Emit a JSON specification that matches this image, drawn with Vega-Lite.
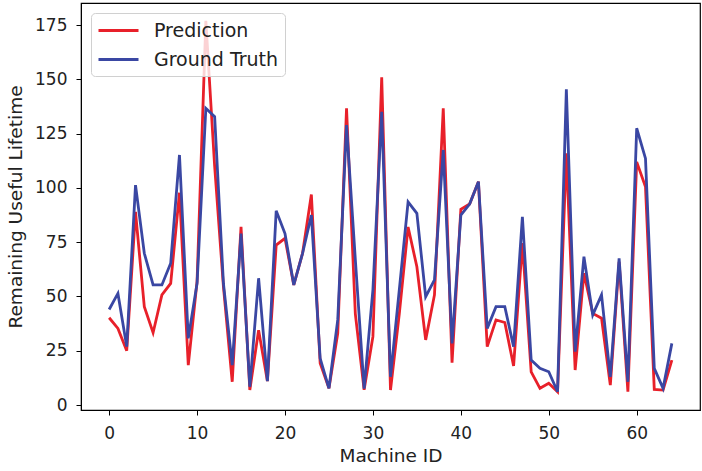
{
  "$schema": "https://vega.github.io/schema/vega-lite/v6.json",
  "width": 619,
  "height": 407,
  "autosize": {"type": "none"},
  "padding": {"left": 81, "top": 3, "right": 2, "bottom": 61},
  "background": "white",
  "config": {
    "font": "DejaVu Sans",
    "view": {"stroke": "black", "strokeWidth": 1.2},
    "axis": {
      "grid": false,
      "domainColor": "black",
      "tickColor": "black",
      "labelColor": "#222",
      "titleColor": "#222",
      "labelFontSize": 17,
      "titleFontSize": 18.5,
      "titleFontWeight": "normal",
      "tickSize": 5
    },
    "legend": {
      "labelFontSize": 19,
      "labelColor": "#222"
    }
  },
  "datasets": {
    "rul": [
      {"id":0,"pred":40.2,"truth":44},
      {"id":1,"pred":35.3,"truth":51.4},
      {"id":2,"pred":25,"truth":26.9},
      {"id":3,"pred":89,"truth":101.3},
      {"id":4,"pred":45.3,"truth":69.9},
      {"id":5,"pred":33.3,"truth":55.3},
      {"id":6,"pred":50.7,"truth":55.3},
      {"id":7,"pred":56,"truth":65.3},
      {"id":8,"pred":97.8,"truth":115.2},
      {"id":9,"pred":18.4,"truth":30.7},
      {"id":10,"pred":57,"truth":56},
      {"id":11,"pred":177,"truth":136.7},
      {"id":12,"pred":110,"truth":132.8},
      {"id":13,"pred":54.5,"truth":56},
      {"id":14,"pred":10.7,"truth":18.4},
      {"id":15,"pred":82.1,"truth":79},
      {"id":16,"pred":6.9,"truth":8.4},
      {"id":17,"pred":34.5,"truth":58.4},
      {"id":18,"pred":11,"truth":11},
      {"id":19,"pred":73.7,"truth":89.5},
      {"id":20,"pred":76.8,"truth":79},
      {"id":21,"pred":55.3,"truth":55.3},
      {"id":22,"pred":69.9,"truth":69.9},
      {"id":23,"pred":97,"truth":87.5},
      {"id":24,"pred":19.2,"truth":21.5},
      {"id":25,"pred":7.7,"truth":7.7},
      {"id":26,"pred":33,"truth":39.2},
      {"id":27,"pred":136.7,"truth":129},
      {"id":28,"pred":42,"truth":67},
      {"id":29,"pred":7,"truth":7.5},
      {"id":30,"pred":31.5,"truth":53},
      {"id":31,"pred":151,"truth":135.1},
      {"id":32,"pred":6.9,"truth":13},
      {"id":33,"pred":42,"truth":53},
      {"id":34,"pred":82,"truth":93.6},
      {"id":35,"pred":63.7,"truth":88.3},
      {"id":36,"pred":30,"truth":49.9},
      {"id":37,"pred":50.7,"truth":57.6},
      {"id":38,"pred":136.7,"truth":117.5},
      {"id":39,"pred":19.5,"truth":28.4},
      {"id":40,"pred":90.1,"truth":87.5},
      {"id":41,"pred":92.6,"truth":92.6},
      {"id":42,"pred":102.9,"truth":102.9},
      {"id":43,"pred":26.9,"truth":35.3},
      {"id":44,"pred":39.2,"truth":45.3},
      {"id":45,"pred":38,"truth":45.3},
      {"id":46,"pred":18,"truth":26.9},
      {"id":47,"pred":74.6,"truth":86.7},
      {"id":48,"pred":15.3,"truth":20.7},
      {"id":49,"pred":7.7,"truth":16.9},
      {"id":50,"pred":10,"truth":15.3},
      {"id":51,"pred":6.1,"truth":6.1},
      {"id":52,"pred":116,"truth":145.4},
      {"id":53,"pred":16.1,"truth":24.6},
      {"id":54,"pred":60.7,"truth":68.3},
      {"id":55,"pred":42.2,"truth":41.5},
      {"id":56,"pred":40,"truth":50.7},
      {"id":57,"pred":9.2,"truth":13},
      {"id":58,"pred":66,"truth":67.6},
      {"id":59,"pred":6.1,"truth":10.7},
      {"id":60,"pred":112,"truth":127.5},
      {"id":61,"pred":100.5,"truth":113.6},
      {"id":62,"pred":7.2,"truth":16.9},
      {"id":63,"pred":6.9,"truth":7.7},
      {"id":64,"pred":20.7,"truth":28.4}
    ]
  },
  "data": {"name": "rul"},
  "transform": [
    {"fold": ["pred", "truth"], "as": ["key", "value"]},
    {"calculate": "datum.key === 'pred' ? 'Prediction' : 'Ground Truth'", "as": "series"}
  ],
  "layer": [
    {
      "transform": [{"filter": "datum.key === 'pred'"}],
      "mark": {"type": "line", "strokeWidth": 2.8, "clip": true},
      "encoding": {
        "x": {"field": "id", "type": "quantitative"},
        "y": {"field": "value", "type": "quantitative"},
        "color": {"field": "series", "type": "nominal"}
      }
    },
    {
      "transform": [{"filter": "datum.key === 'truth'"}],
      "mark": {"type": "line", "strokeWidth": 2.8, "clip": true},
      "encoding": {
        "x": {"field": "id", "type": "quantitative"},
        "y": {"field": "value", "type": "quantitative"},
        "color": {"field": "series", "type": "nominal"}
      }
    }
  ],
  "encoding": {
    "x": {
      "field": "id",
      "type": "quantitative",
      "title": "Machine ID",
      "scale": {"domain": [-3.2, 67.2], "nice": false, "zero": false},
      "axis": {"values": [0, 10, 20, 30, 40, 50, 60], "labelPadding": 10, "titlePadding": 5}
    },
    "y": {
      "field": "value",
      "type": "quantitative",
      "title": "Remaining Useful Lifetime",
      "scale": {"domain": [-2.3, 185.2], "nice": false, "zero": false},
      "axis": {"values": [0, 25, 50, 75, 100, 125, 150, 175], "labelPadding": 9, "titlePadding": 9}
    },
    "color": {
      "field": "series",
      "type": "nominal",
      "scale": {"domain": ["Prediction", "Ground Truth"], "range": ["#e8202a", "#3a47a3"]},
      "legend": {
        "title": null,
        "orient": "none",
        "legendX": 10,
        "legendY": 10,
        "symbolType": "M-1,0H3",
        "symbolSize": 400,
        "symbolStrokeWidth": 3,
        "symbolFillColor": "transparent",
        "fillColor": "rgba(255,255,255,0.8)",
        "strokeColor": "#d0d0d0",
        "cornerRadius": 4,
        "padding": 6,
        "rowPadding": 7,
        "labelOffset": 34,
        "offset": 0
      }
    }
  }
}
